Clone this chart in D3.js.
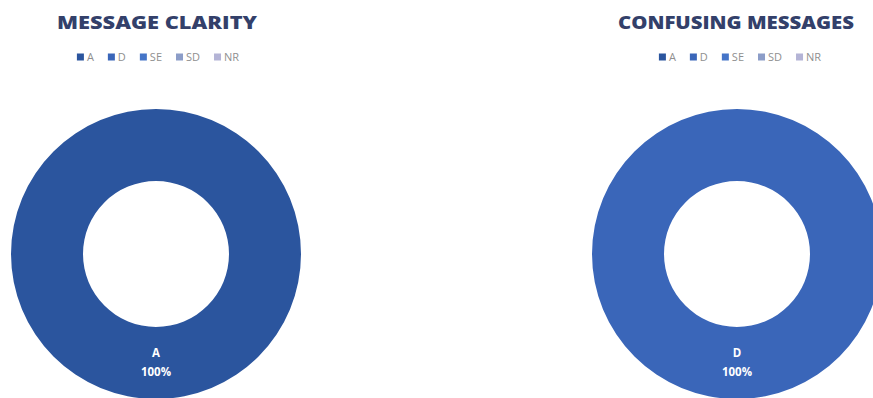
<!DOCTYPE html>
<html>
<head>
<meta charset="utf-8">
<script src="https://cdn.jsdelivr.net/npm/d3@7"></script>
<style>
  html, body { margin: 0; padding: 0; background: #ffffff; }
  svg { display: block; }
</style>
</head>
<body>
<svg id="chart" width="873" height="398"></svg>
<script>
// Response categories shared by both donuts
const categories = ["A", "D", "SE", "SD", "NR"];
// Share of responses (%) per category for each question
const clarityValues = [100, 0, 0, 0, 0];
const confusingValues = [0, 100, 0, 0, 0];
const chartTitles = ["MESSAGE CLARITY", "CONFUSING MESSAGES"];
const categoryColors = ["#2b559e", "#3a66b9", "#4575c8", "#8c9dc8", "#b4b4d6"];

const svg = d3.select("#chart");

const color = d3.scaleOrdinal().domain(categories).range(categoryColors);

const panels = [
  { title: chartTitles[0], values: clarityValues, cx: 156, titleX: 157, titleW: 200, legendX: 158 },
  { title: chartTitles[1], values: confusingValues, cx: 737, titleX: 736, titleW: 236, legendX: 740 }
];

const cy = 254, outerR = 145, innerR = 73;

const pie = d3.pie().sort(null).value(d => d.value).startAngle(0).endAngle(2 * Math.PI);
const arc = d3.arc().innerRadius(innerR).outerRadius(outerR);

panels.forEach(p => {
  const g = svg.append("g");

  // Title
  g.append("text")
    .attr("x", p.titleX)
    .attr("y", 29)
    .attr("text-anchor", "middle")
    .attr("font-family", "'Open Sans', sans-serif")
    .attr("font-weight", 800)
    .attr("font-size", 18)
    .attr("fill", "#33406a")
    .attr("textLength", p.titleW)
    .attr("lengthAdjust", "spacingAndGlyphs")
    .text(p.title);

  // Legend: colour square + category label, laid out left to right and centred
  const leg = g.append("g");
  let x = 0;
  categories.forEach(c => {
    const item = leg.append("g").attr("transform", `translate(${x},0)`);
    item.append("rect")
      .attr("x", 0).attr("y", -3.5)
      .attr("width", 7).attr("height", 7)
      .attr("fill", color(c));
    const t = item.append("text")
      .attr("x", 10)
      .attr("y", 4)
      .attr("font-family", "'Open Sans', sans-serif")
      .attr("font-size", 11)
      .attr("fill", "#8f8f8f")
      .text(c);
    x += 10 + t.node().getComputedTextLength() + 14;
  });
  const legW = x - 14;
  leg.attr("transform", `translate(${p.legendX - legW / 2},57)`);

  // Donut ring
  const data = categories.map((c, i) => ({ key: c, value: p.values[i] }));
  const arcs = pie(data).filter(d => d.data.value > 0);
  const ring = g.append("g").attr("transform", `translate(${p.cx},${cy})`);
  ring.selectAll("path")
    .data(arcs)
    .join("path")
    .attr("d", arc)
    .attr("fill", d => color(d.data.key));

  // Data labels at each slice's centroid
  const lbl = ring.selectAll("g.lbl")
    .data(arcs)
    .join("g")
    .attr("class", "lbl")
    .attr("transform", d => `translate(${arc.centroid(d)})`);
  lbl.append("text")
    .attr("y", -6)
    .attr("text-anchor", "middle")
    .attr("font-family", "'Open Sans', sans-serif")
    .attr("font-weight", 700)
    .attr("font-size", 11.5)
    .attr("fill", "#ffffff")
    .text(d => d.data.key);
  lbl.append("text")
    .attr("y", 13)
    .attr("text-anchor", "middle")
    .attr("font-family", "'Open Sans', sans-serif")
    .attr("font-weight", 700)
    .attr("font-size", 11.5)
    .attr("fill", "#ffffff")
    .text(d => d3.format(".0%")(d.data.value / d3.sum(p.values)));
});
</script>
</body>
</html>
